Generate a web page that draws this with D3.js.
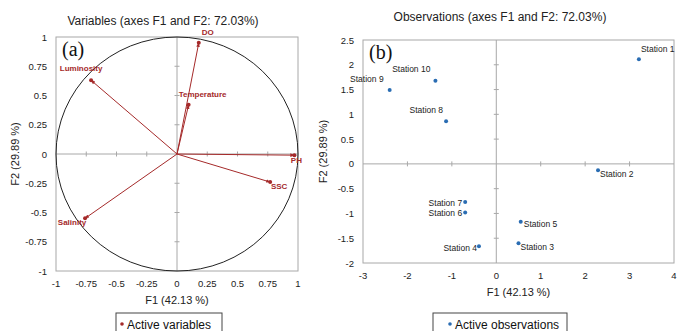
<!DOCTYPE html>
<html>
<head>
<meta charset="utf-8">
<script src="https://cdn.jsdelivr.net/npm/d3@7"></script>
<style>
  body { margin: 0; background: #fff; }
  svg { font-family: "Liberation Sans", Arial, sans-serif; }
</style>
</head>
<body>
<svg id="chart" width="684" height="331"></svg>
<script>
// variables (loadings)
const varNames = ['DO', 'Luminosity', 'Temperature', 'PH', 'SSC', 'Salinity'];
const varF1 = [0.18, -0.71, 0.096, 0.97, 0.77, -0.76];
const varF2 = [0.95, 0.63, 0.42, -0.01, -0.24, -0.55];

// observations (scores)
const stations = ['Station 1', 'Station 2', 'Station 3', 'Station 4', 'Station 5',
  'Station 6', 'Station 7', 'Station 8', 'Station 9', 'Station 10'];
const obsF1 = [3.21, 2.29, 0.50, -0.39, 0.55, -0.70, -0.70, -1.13, -2.40, -1.37];
const obsF2 = [2.11, -0.13, -1.60, -1.66, -1.17, -0.98, -0.77, 0.86, 1.49, 1.68];

const varTicks = [-1, -0.75, -0.5, -0.25, 0, 0.25, 0.5, 0.75, 1];
const obsXTicks = [-3, -2, -1, 0, 1, 2, 3, 4];
const obsYTicks = [-2, -1.5, -1, -0.5, 0, 0.5, 1, 1.5, 2, 2.5];

const red = '#a52a2a';
const blue = '#2a6db3';
const svg = d3.select('#chart');

// label placement: [dx, dy, anchor]
const varLabelPos = {
  'DO': [9, -8, 'middle'], 'Luminosity': [-10, -9, 'middle'], 'Temperature': [14, -8, 'middle'],
  'PH': [2, 8, 'middle'], 'SSC': [9, 6.5, 'middle'], 'Salinity': [-13, 7, 'middle']
};
const obsLabelPos = {
  'Station 1': [2, -7, 'start'], 'Station 2': [2, 7, 'start'], 'Station 3': [2, 6.5, 'start'],
  'Station 4': [-2, 4.5, 'end'], 'Station 5': [3, 5.5, 'start'], 'Station 6': [-3, 3.5, 'end'],
  'Station 7': [-3, 3.5, 'end'], 'Station 8': [-3, -8, 'end'], 'Station 9': [-6, -8, 'end'],
  'Station 10': [-5, -9, 'end']
};

function panel(opt) {
  const x = d3.scaleLinear().domain(opt.xd).range([opt.x0, opt.x1]);
  const y = d3.scaleLinear().domain(opt.yd).range([opt.y1, opt.y0]);
  const g = svg.append('g');

  g.append('rect').attr('x', opt.x0).attr('y', opt.y0)
    .attr('width', opt.x1 - opt.x0).attr('height', opt.y1 - opt.y0)
    .attr('fill', 'none').attr('stroke', '#a8a8a8');

  // center lines
  g.append('line').attr('x1', x(0)).attr('x2', x(0)).attr('y1', opt.y0).attr('y2', opt.y1)
    .attr('stroke', '#a8a8a8');
  g.append('line').attr('x1', opt.x0).attr('x2', opt.x1).attr('y1', y(0)).attr('y2', y(0))
    .attr('stroke', '#a8a8a8');

  // small ticks on center lines
  g.selectAll('.cty').data(opt.yt.filter(d => d !== 0 && d !== opt.yd[0] && d !== opt.yd[1]))
    .join('line').attr('x1', x(0) - 2.5).attr('x2', x(0) + 2.5)
    .attr('y1', d => y(d)).attr('y2', d => y(d)).attr('stroke', '#a8a8a8');
  g.selectAll('.ctx').data(opt.xt.filter(d => d !== 0 && d !== opt.xd[0] && d !== opt.xd[1]))
    .join('line').attr('y1', y(0) - 2.5).attr('y2', y(0) + 2.5)
    .attr('x1', d => x(d)).attr('x2', d => x(d)).attr('stroke', '#a8a8a8');

  // tick labels
  g.selectAll('.ylab').data(opt.yt).join('text')
    .attr('x', opt.x0 - 9).attr('y', d => y(d) + 3.5)
    .attr('text-anchor', 'end').attr('font-size', 9.5).attr('fill', '#222')
    .text(d => d);
  g.selectAll('.xlab').data(opt.xt).join('text')
    .attr('x', d => x(d)).attr('y', opt.y1 + 16)
    .attr('text-anchor', 'middle').attr('font-size', 9.5).attr('fill', '#222')
    .text(d => d);

  g.append('text').attr('x', (opt.x0 + opt.x1) / 2).attr('y', opt.y1 + 33)
    .attr('text-anchor', 'middle').attr('font-size', 11).attr('fill', '#222')
    .text('F1 (42.13 %)');
  g.append('text')
    .attr('transform', `translate(${opt.ylx},${(opt.y0 + opt.y1) / 2}) rotate(-90)`)
    .attr('text-anchor', 'middle').attr('font-size', 11).attr('fill', '#222')
    .text('F2 (29.89 %)');

  g.append('text').attr('x', opt.tx).attr('y', opt.ty)
    .attr('text-anchor', 'middle').attr('font-size', 12).attr('fill', '#222')
    .text(opt.title);

  g.append('text').attr('x', opt.x0 + 6).attr('y', opt.y0 + 19)
    .attr('font-family', '"Liberation Serif", "Times New Roman", serif')
    .attr('font-size', 20).attr('fill', '#111').text(opt.tag);

  // legend
  g.append('rect').attr('x', opt.lx).attr('y', 313).attr('width', opt.lw).attr('height', 22)
    .attr('fill', '#fff').attr('stroke', '#444');
  g.append('circle').attr('cx', opt.lx + opt.ld).attr('cy', 324).attr('r', 1.8).attr('fill', opt.lc);
  g.append('text').attr('x', opt.lx + opt.ld + 5).attr('y', 328.5)
    .attr('font-size', 12).attr('fill', '#111').text(opt.legend);

  return { g, x, y };
}

// ---- panel (a)
const A = panel({
  xd: [-1, 1], yd: [-1, 1], x0: 56, x1: 298, y0: 37, y1: 271,
  xt: varTicks, yt: varTicks, ylx: 19, tx: 163, ty: 25,
  title: 'Variables (axes F1 and F2: 72.03%)', tag: '(a)',
  lx: 116, lw: 106, ld: 6, lc: red, legend: 'Active variables'
});

svg.append('defs').append('marker').attr('id', 'arr')
  .attr('viewBox', '0 0 10 10').attr('refX', 9).attr('refY', 5)
  .attr('markerWidth', 4.5).attr('markerHeight', 4.5).attr('orient', 'auto')
  .append('path').attr('d', 'M0,1L10,5L0,9Z').attr('fill', red);

A.g.append('ellipse').attr('cx', A.x(0)).attr('cy', A.y(0))
  .attr('rx', A.x(1) - A.x(0)).attr('ry', A.y(0) - A.y(1))
  .attr('fill', 'none').attr('stroke', '#222').attr('stroke-width', 1);

const vars = varNames.map((n, i) => ({ n, f1: varF1[i], f2: varF2[i] }));
A.g.selectAll('.vline').data(vars).join('line')
  .attr('x1', A.x(0)).attr('y1', A.y(0))
  .attr('x2', d => A.x(d.f1)).attr('y2', d => A.y(d.f2))
  .attr('stroke', red).attr('stroke-width', 1).attr('marker-end', 'url(#arr)');
A.g.selectAll('.vdot').data(vars).join('circle')
  .attr('cx', d => A.x(d.f1)).attr('cy', d => A.y(d.f2)).attr('r', 2).attr('fill', red);
A.g.selectAll('.vlab').data(vars).join('text')
  .attr('x', d => A.x(d.f1) + varLabelPos[d.n][0])
  .attr('y', d => A.y(d.f2) + varLabelPos[d.n][1])
  .attr('text-anchor', d => varLabelPos[d.n][2])
  .attr('font-size', 8).attr('font-weight', 'bold').attr('fill', red)
  .text(d => d.n);

// ---- panel (b)
const B = panel({
  xd: [-3, 4], yd: [-2, 2.5], x0: 363, x1: 674, y0: 40, y1: 263,
  xt: obsXTicks, yt: obsYTicks, ylx: 327, tx: 500, ty: 21,
  title: 'Observations (axes F1 and F2: 72.03%)', tag: '(b)',
  lx: 433, lw: 134, ld: 17, lc: blue, legend: 'Active observations'
});

const obs = stations.map((n, i) => ({ n, f1: obsF1[i], f2: obsF2[i] }));
B.g.selectAll('.odot').data(obs).join('circle')
  .attr('cx', d => B.x(d.f1)).attr('cy', d => B.y(d.f2)).attr('r', 2).attr('fill', blue);
B.g.selectAll('.olab').data(obs).join('text')
  .attr('x', d => B.x(d.f1) + obsLabelPos[d.n][0])
  .attr('y', d => B.y(d.f2) + obsLabelPos[d.n][1])
  .attr('text-anchor', d => obsLabelPos[d.n][2])
  .attr('font-size', 8.5).attr('fill', '#222')
  .text(d => d.n);
</script>
</body>
</html>
